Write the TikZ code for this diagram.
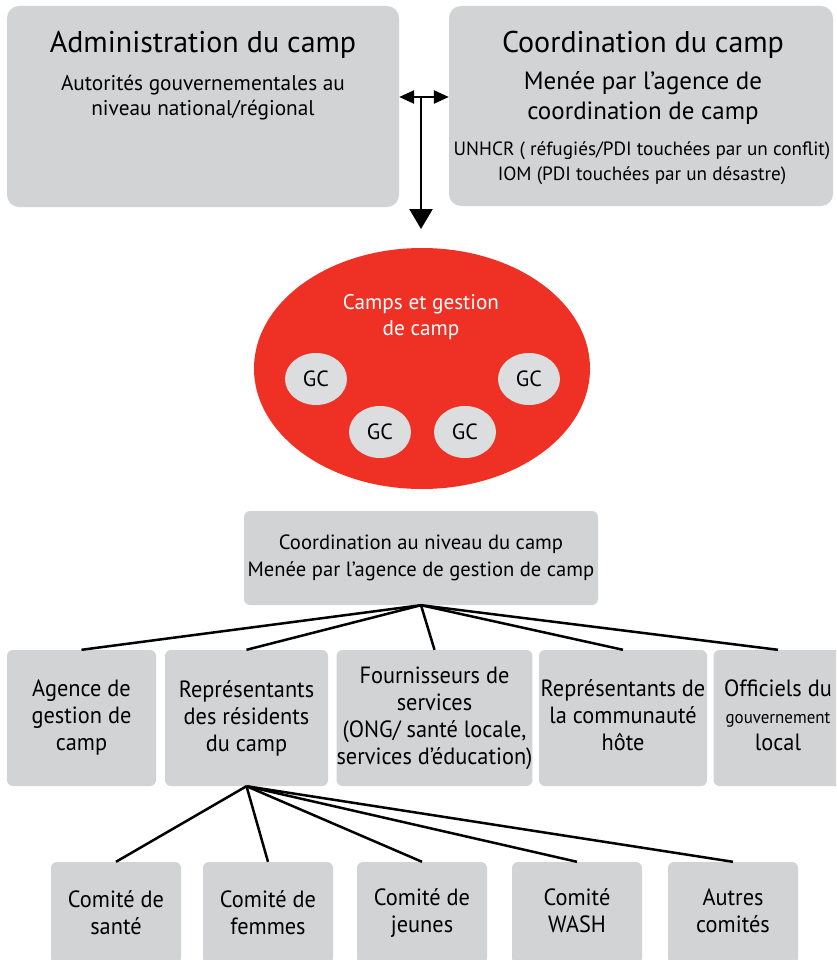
\documentclass[tikz,border=0pt]{standalone}
\usepackage{fontspec}
\setmainfont{PT Sans}
\newfontfamily\narrowfont{PT Sans}[FakeStretch=0.95]
\usetikzlibrary{shapes.geometric, arrows.meta}
\definecolor{boxgray}{HTML}{D1D3D4}
\definecolor{campred}{HTML}{EE3124}
\definecolor{gcgray}{HTML}{DCDDDE}
\tikzstyle{bigbox} = [rectangle, rounded corners=12pt, fill=boxgray, inner sep=0pt]
\tikzstyle{rowbox} = [rectangle, rounded corners=6pt, fill=boxgray, inner sep=0pt, align=center, minimum height=136pt, font=\narrowfont\fontsize{23.5}{27}\selectfont]
\tikzstyle{combox} = [rectangle, rounded corners=6pt, fill=boxgray, inner sep=0pt, align=center, minimum width=130pt, minimum height=102pt, font=\narrowfont\fontsize{23.5}{27}\selectfont]
\tikzstyle{gc} = [ellipse, fill=gcgray, minimum width=62pt, minimum height=52pt, inner sep=0pt, font=\fontsize{22}{24}\selectfont]
\tikzstyle{arrow} = [line width=2.5pt]
\tikzstyle{link} = [line width=2.5pt]

\begin{document}
\begin{tikzpicture}[x=1pt, y=-1pt]
        \clip (0,0) rectangle (836,960);
        % top level
        \node (adm) [bigbox, minimum width=392pt, minimum height=201pt] at (203,106.5) {};
        \node (admtitle) at (203,45) {\fontsize{30}{32}\selectfont Administration du camp};
        \node (admsub) [align=center, font=\fontsize{21.3}{25}\selectfont] at (203,98) {Autorités gouvernementales au\\niveau national/régional};
        \node (coord) [bigbox, minimum width=384pt, minimum height=200pt] at (641,106) {};
        \node (coordtitle) at (643,45) {\fontsize{30}{32}\selectfont Coordination du camp};
        \node (coordsub) [align=center, font=\fontsize{25}{30}\selectfont] at (643,98) {Menée par l’agence de\\coordination de camp};
        \node (coordorg) [align=center, font=\fontsize{19.2}{25}\selectfont] at (642,163) {UNHCR ( réfugiés/PDI touchées par un conflit)\\IOM (PDI touchées par un désastre)};
        \coordinate (hub) at (421,97);
        \coordinate (hubend) at (421,229);
        \draw [arrow, {Triangle[length=15pt,width=13pt]}-{Triangle[length=15pt,width=13pt]}] (adm.east |- hub) -- (coord.west |- hub);
        \draw [arrow, -{Triangle[length=20pt,width=23pt]}] (hub) -- (hubend);
        % camps
        \node (camps) [ellipse, fill=campred, minimum width=336pt, minimum height=241pt] at (422,368.5) {};
        \node (campstext) [align=center, text=white, font=\fontsize{21.2}{26}\selectfont] at (421,317) {Camps et gestion\\de camp};
        \node (gca) [gc] at (316,379) {GC};
        \node (gcb) [gc] at (529,379) {GC};
        \node (gcc) [gc] at (380,432) {GC};
        \node (gcd) [gc] at (465,432) {GC};
        % camp level
        \node (campcoord) [rectangle, rounded corners=6pt, fill=boxgray, align=center, minimum width=354pt, minimum height=94pt, font=\fontsize{20.6}{27}\selectfont] at (421,558) {Coordination au niveau du camp\\Menée par l’agence de gestion de camp};
        \node (agence) [rowbox, minimum width=149pt] at (81.5,718) {Agence de\\gestion de\\camp\vphantom{g}};
        \node (resid) [rowbox, minimum width=163pt] at (246.5,718) {Représentants\\des résidents\\du camp};
        \node (fourn) [rowbox, minimum width=193pt] at (434.5,718) {Fournisseurs de\\services\\(ONG/ santé locale,\\services d’éducation)};
        \node (hote) [rowbox, minimum width=168pt] at (623,718) {Représentants de\\la communauté\\hôte\vphantom{g}};
        \node (offic) [rowbox, minimum width=129pt] at (778,718) {Officiels du\\{\fontsize{17.8}{27}\selectfont gouvernement}\\local\vphantom{g}};
        \draw [link] (campcoord.south) -- (agence.north);
        \draw [link] (campcoord.south) -- (resid.north);
        \draw [link] (campcoord.south) -- (fourn.north);
        \draw [link] (campcoord.south) -- (hote.north);
        \draw [link] (campcoord.south) -- (offic.north);
        % committees
        \node (sante) [combox] at (116,913) {Comité de\\santé};
        \node (femmes) [combox] at (268,913) {Comité de\\femmes};
        \node (jeunes) [combox] at (422,913) {Comité de\\jeunes};
        \node (wash) [combox] at (577,913) {Comité\\WASH\vphantom{g}};
        \node (autres) [combox] at (733,913) {Autres\\comités\vphantom{g}};
        \draw [link] (resid.south) -- (sante.north);
        \draw [link] (resid.south) -- (femmes.north);
        \draw [link] (resid.south) -- (jeunes.north);
        \draw [link] (resid.south) -- (wash.north);
        \draw [link] (resid.south) -- (autres.north);
    \end{tikzpicture}
\end{document}
